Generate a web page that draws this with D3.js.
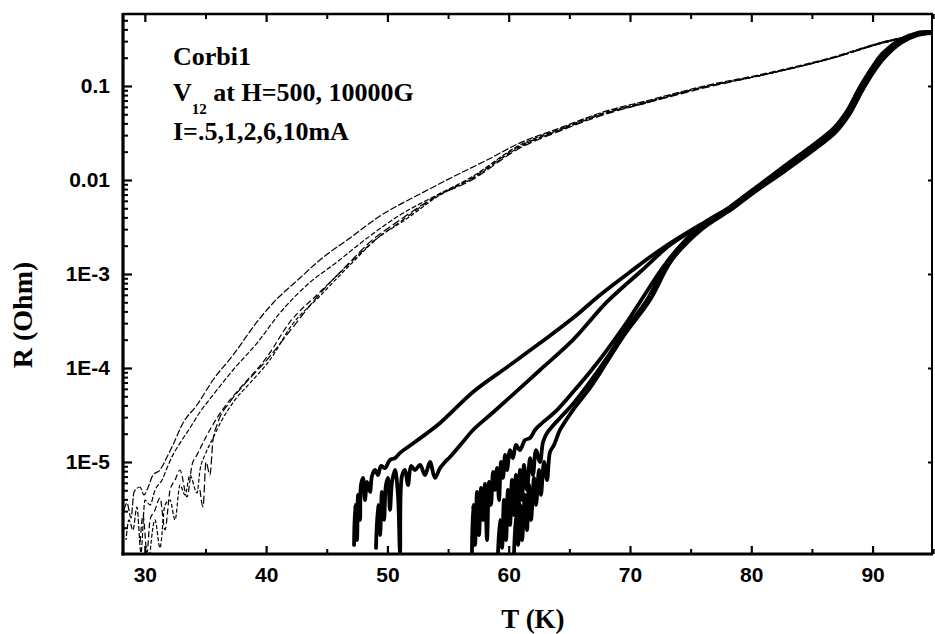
<!DOCTYPE html>
<html>
<head>
<meta charset="utf-8">
<script src="https://cdn.jsdelivr.net/npm/d3@7/dist/d3.min.js"></script>
<style>
  body { margin: 0; background: #fff; }
  svg { display: block; }
</style>
</head>
<body>
<svg id="chart" width="935" height="634"></svg>
<script>
// ---- Data: R(T) for sample Corbi1, V12 at H = 500 G (thin) and 10000 G (thick) ----
// Each series is a list of [T (K), R (Ohm)] readings, I = .5, 1, 2, 6, 10 mA.
const h500_I05 = [[28.28,3.09e-6],[28.53,3.66e-6],[28.86,2.54e-6],[29.11,4.80e-6],[29.60,5.42e-6],[29.93,4.46e-6],[30.18,5.04e-6],[30.67,7.27e-6],[31.25,8.22e-6],[31.83,1.13e-5],[32.32,1.52e-5],[33.15,2.60e-5],[34.30,4.04e-5],[35.62,7.45e-5],[37.27,1.37e-4],[39.25,3.09e-4],[40.57,4.91e-4],[42.79,9.07e-4],[44.44,1.41e-3],[46.92,2.42e-3],[49.39,4.14e-3],[52.69,7.10e-3],[55.41,0.0108],[58.21,0.0163],[60.93,0.0248],[64.23,0.0357],[67.53,0.0516],[71.65,0.0710],[75.77,0.0976],[81.30,0.137],[86.74,0.203],[90.86,0.294],[94.90,0.375]];
const h500_I1 = [[28.45,1.48e-6],[28.69,2.42e-6],[29.02,1.89e-6],[29.35,3.32e-6],[29.68,1.08e-6],[30.01,3.94e-6],[30.43,3.49e-6],[30.84,5.04e-6],[31.42,6.43e-6],[31.83,8.63e-6],[32.32,1.19e-5],[32.90,1.59e-5],[33.72,2.30e-5],[34.55,3.40e-5],[35.62,5.16e-5],[37.27,9.52e-5],[39.25,1.84e-4],[41.14,3.85e-4],[43.37,7.64e-4],[45.84,1.34e-3],[48.56,2.54e-3],[51.04,4.24e-3],[54.09,6.92e-3],[56.81,0.0105],[60.93,0.0236],[64.23,0.0349],[67.53,0.0504],[71.65,0.0692],[75.77,0.0952],[81.30,0.134],[86.74,0.199],[90.86,0.287],[94.90,0.366]];
const h500_I2 = [[29.60,1.31e-6],[29.85,2.73e-6],[30.18,1.08e-6],[30.43,2.42e-6],[30.84,3.09e-6],[31.25,4.14e-6],[31.66,1.89e-6],[32.08,5.04e-6],[32.49,6.43e-6],[32.90,8.22e-6],[33.48,4.24e-6],[33.89,9.29e-6],[34.30,1.19e-5],[35.13,1.94e-5],[35.95,2.94e-5],[37.02,4.57e-5],[38.09,6.59e-5],[40.07,1.31e-4],[41.97,3.09e-4],[44.19,5.98e-4],[46.50,1.16e-3],[48.98,2.30e-3],[51.04,3.57e-3],[54.09,6.76e-3],[56.81,0.0102],[60.93,0.0230],[64.23,0.0340],[67.53,0.0491],[71.65,0.0692],[75.77,0.0952],[81.30,0.134],[86.74,0.199],[90.86,0.294],[94.90,0.375]];
const h500_I6 = [[30.43,1.08e-6],[30.84,2.42e-6],[31.25,1.22e-6],[31.66,3.49e-6],[32.08,3.94e-6],[32.49,2.42e-6],[32.90,5.69e-6],[33.31,4.46e-6],[33.72,7.27e-6],[34.30,4.68e-6],[34.55,8.22e-6],[34.96,1.19e-5],[35.54,1.71e-5],[36.36,2.80e-5],[37.43,4.57e-5],[38.67,6.92e-5],[40.32,1.22e-4],[42.13,2.87e-4],[44.44,5.83e-4],[46.92,1.25e-3],[49.22,2.42e-3],[51.45,3.75e-3],[54.34,6.92e-3],[56.81,0.0100],[60.93,0.0225],[64.23,0.0340],[67.53,0.0491],[71.65,0.0676],[75.77,0.0952],[81.30,0.134],[86.74,0.199],[90.86,0.287],[94.90,0.375]];
const h500_I10 = [[34.55,5.04e-6],[34.80,3.32e-6],[35.04,1.00e-5],[35.37,7.27e-6],[35.62,1.71e-5],[35.95,2.48e-5],[37.02,4.35e-5],[38.09,6.43e-5],[40.07,1.22e-4],[42.22,2.73e-4],[44.19,5.69e-4],[46.92,1.34e-3],[48.56,2.19e-3],[50.79,3.57e-3],[54.09,6.76e-3],[56.81,9.76e-3],[60.93,0.0219],[64.23,0.0332],[67.53,0.0480],[71.65,0.0676],[75.77,0.0929],[81.30,0.134],[86.74,0.199],[90.86,0.287],[94.90,0.375]];

const h10000_I05 = [[47.25,1.31e-6],[47.33,3.49e-6],[47.49,1.48e-6],[47.58,4.46e-6],[47.74,2.42e-6],[47.82,5.69e-6],[47.99,6.76e-6],[48.15,3.94e-6],[48.32,6.13e-6],[48.56,4.80e-6],[48.73,7.10e-6],[48.98,8.22e-6],[49.22,7.27e-6],[49.47,9.07e-6],[49.80,8.63e-6],[50.21,1.05e-5],[50.63,1.10e-5],[51.04,1.25e-5],[52.27,1.63e-5],[54.34,2.60e-5],[57.06,5.55e-5],[59.86,1.02e-4],[62.58,1.84e-4],[65.30,3.40e-4],[67.53,5.98e-4],[70.00,1.05e-3],[72.47,1.80e-3],[75.77,3.32e-3],[78.25,5.04e-3],[79.89,7.27e-3],[82.62,0.0134],[85.42,0.0248],[86.74,0.0340],[87.89,0.0529],[88.96,0.0952],[90.04,0.159],[90.86,0.219],[92.26,0.309],[93.66,0.357],[94.90,0.375]];
const h10000_I1 = [[49.06,1.22e-6],[49.22,3.49e-6],[49.39,1.67e-6],[49.55,4.80e-6],[49.72,2.42e-6],[49.88,5.69e-6],[50.05,6.76e-6],[50.21,3.09e-6],[50.38,6.13e-6],[50.63,8.22e-6],[50.87,4.46e-6],[51.04,1.10e-6],[51.20,7.10e-6],[51.45,8.22e-6],[51.70,5.69e-6],[51.95,9.07e-6],[52.27,8.22e-6],[52.69,9.29e-6],[53.10,7.27e-6],[53.51,1.00e-5],[53.92,6.76e-6],[54.34,8.63e-6],[54.75,1.00e-5],[55.16,1.13e-5],[56.15,1.59e-5],[57.06,2.19e-5],[58.46,3.16e-5],[59.86,4.57e-5],[62.58,9.52e-5],[65.30,1.99e-4],[68.10,5.04e-4],[70.83,1.05e-3],[73.30,2.03e-3],[75.77,3.24e-3],[78.25,5.16e-3],[79.89,7.45e-3],[82.62,0.0131],[85.42,0.0242],[86.74,0.0332],[87.89,0.0516],[88.96,0.0929],[90.04,0.155],[90.86,0.214],[92.26,0.301],[93.66,0.357],[94.90,0.375]];
const h10000_I2 = [[56.97,1.10e-6],[57.06,3.49e-6],[57.22,1.31e-6],[57.39,4.80e-6],[57.55,1.67e-6],[57.72,5.29e-6],[57.88,2.42e-6],[58.05,5.83e-6],[58.21,1.48e-6],[58.38,6.13e-6],[58.54,3.49e-6],[58.71,7.83e-6],[58.87,5.04e-6],[59.04,8.63e-6],[59.20,3.94e-6],[59.37,1.00e-5],[59.53,6.76e-6],[59.70,1.19e-5],[59.86,8.22e-6],[60.11,1.34e-5],[60.35,1.10e-5],[60.60,1.52e-5],[60.93,1.34e-5],[61.34,1.71e-5],[61.76,1.80e-5],[62.17,2.19e-5],[62.58,2.48e-5],[63.98,3.57e-5],[65.30,5.55e-5],[66.70,9.07e-5],[68.10,1.55e-4],[69.59,2.87e-4],[70.83,5.04e-4],[73.05,1.34e-3],[75.77,3.24e-3],[78.25,5.16e-3],[79.89,7.45e-3],[82.62,0.0137],[85.42,0.0254],[86.74,0.0349],[87.89,0.0542],[88.96,0.0976],[90.04,0.163],[90.86,0.225],[92.26,0.309],[93.66,0.366],[94.90,0.375]];
const h10000_I6 = [[59.12,1.08e-6],[59.28,2.42e-6],[59.45,1.22e-6],[59.61,3.94e-6],[59.78,1.48e-6],[59.94,5.04e-6],[60.11,2.14e-6],[60.27,6.43e-6],[60.44,2.73e-6],[60.60,7.27e-6],[60.77,1.67e-6],[60.93,8.22e-6],[61.10,3.94e-6],[61.26,9.29e-6],[61.51,5.04e-6],[61.76,1.10e-5],[62.00,7.27e-6],[62.25,1.34e-5],[62.58,1.00e-5],[62.83,1.63e-5],[63.16,2.03e-5],[64.23,2.94e-5],[65.30,4.14e-5],[66.70,7.10e-5],[68.10,1.28e-4],[69.59,2.54e-4],[71.40,5.29e-4],[73.30,1.48e-3],[75.77,3.09e-3],[78.25,5.04e-3],[79.89,7.27e-3],[82.62,0.0128],[85.42,0.0236],[86.74,0.0324],[87.89,0.0504],[88.96,0.0907],[90.04,0.152],[90.86,0.209],[92.26,0.294],[93.66,0.357],[94.90,0.375]];
const h10000_I10 = [[60.44,1.08e-6],[60.60,2.73e-6],[60.77,1.31e-6],[60.93,3.49e-6],[61.10,1.48e-6],[61.34,4.46e-6],[61.51,1.89e-6],[61.67,5.69e-6],[61.84,2.42e-6],[62.09,6.76e-6],[62.25,3.49e-6],[62.50,8.22e-6],[62.66,4.46e-6],[62.91,1.00e-5],[63.16,6.43e-6],[63.41,1.28e-5],[63.74,1.52e-5],[64.23,2.19e-5],[65.30,3.57e-5],[66.70,6.13e-5],[68.10,1.16e-4],[69.59,2.30e-4],[71.65,5.29e-4],[73.46,1.41e-3],[75.94,3.01e-3],[78.41,4.91e-3],[80.06,7.10e-3],[82.78,0.0125],[85.58,0.0230],[86.90,0.0316],[88.06,0.0491],[89.13,0.0885],[90.20,0.148],[91.03,0.203],[92.34,0.287],[93.75,0.349],[94.90,0.366]];

const lowFieldSeries = [h500_I05, h500_I1, h500_I2, h500_I6, h500_I10];
const highFieldSeries = [h10000_I05, h10000_I1, h10000_I2, h10000_I6, h10000_I10];

// Axis ticks and labels
const xMajorTicks = [30, 40, 50, 60, 70, 80, 90];
const xMinorTicks = [35, 45, 55, 65, 75, 85, 95];
const yMajorTicks = [0.1, 0.01, 1e-3, 1e-4, 1e-5];
const yTickLabels = ["0.1", "0.01", "1E-3", "1E-4", "1E-5"];

const annotationLines = ["Corbi1", "V", "12", " at H=500, 10000G", "I=.5,1,2,6,10mA"];
const xTitle = "T (K)";
const yTitle = "R (Ohm)";

// ---- Layout ----
const plot = { left: 123, right: 932, top: 14, bottom: 554 };
const svg = d3.select("#chart");

const x = d3.scaleLinear().domain([28.2, 94.9]).range([plot.left, plot.right]);
const y = d3.scaleLog().domain([1.05e-6, 0.583]).range([plot.bottom, plot.top]);

// minor log ticks 2..9 within each decade
const yMinorTicks = [];
for (let e = -6; e <= -1; e++) {
  for (let m = 2; m <= 9; m++) {
    const v = m * Math.pow(10, e);
    if (v > y.domain()[0] && v < y.domain()[1]) yMinorTicks.push(v);
  }
}

const tickFont = "'Liberation Sans', Arial, Helvetica, sans-serif";
const serifFont = "'Liberation Serif', 'Times New Roman', Times, serif";

function styleAxis(g, width) {
  g.select(".domain").remove();
  g.selectAll(".tick line").attr("stroke", "#000").attr("stroke-width", width);
}

// ---- Curves ----
svg.append("clipPath").attr("id", "plotClip")
  .append("rect")
  .attr("x", plot.left).attr("y", plot.top)
  .attr("width", plot.right - plot.left).attr("height", plot.bottom - plot.top);

const smoothLine = d3.line()
  .x(d => x(d[0]))
  .y(d => y(d[1]))
  .curve(d3.curveMonotoneX);

const traceLine = d3.line()
  .x(d => x(d[0]))
  .y(d => y(d[1]))
  .curve(d3.curveCatmullRom.alpha(0.5));

const curves = svg.append("g").attr("clip-path", "url(#plotClip)");

// 500 G: thin broken traces
const dashes = ["7 2", "5 2", "6 3", "4 2", "8 3"];
curves.selectAll("path.low")
  .data(lowFieldSeries)
  .join("path")
  .attr("class", "low")
  .attr("d", smoothLine)
  .attr("fill", "none")
  .attr("stroke", "#000")
  .attr("stroke-width", 1.2)
  .attr("stroke-dasharray", (d, i) => dashes[i])
  .attr("stroke-dashoffset", (d, i) => i * 3)
  .attr("stroke-linejoin", "round");

// 10000 G: heavy traces
curves.selectAll("path.high")
  .data(highFieldSeries)
  .join("path")
  .attr("class", "high")
  .attr("d", traceLine)
  .attr("fill", "none")
  .attr("stroke", "#000")
  .attr("stroke-width", 3.8)
  .attr("stroke-linejoin", "round")
  .attr("stroke-linecap", "round");

// ---- Axes ----
// bottom
svg.append("g")
  .attr("transform", `translate(0,${plot.bottom})`)
  .call(d3.axisBottom(x).tickValues(xMajorTicks).tickSizeInner(-8).tickSizeOuter(0).tickPadding(13).tickFormat(d3.format("d")))
  .call(g => styleAxis(g, 2.2))
  .call(g => g.selectAll("text").attr("font-family", tickFont).attr("font-weight", "bold").attr("font-size", 21).attr("fill", "#000"));
svg.append("g")
  .attr("transform", `translate(0,${plot.bottom})`)
  .call(d3.axisBottom(x).tickValues(xMinorTicks).tickSizeInner(-5).tickSizeOuter(0).tickFormat(""))
  .call(g => styleAxis(g, 2));

// top
svg.append("g")
  .attr("transform", `translate(0,${plot.top})`)
  .call(d3.axisTop(x).tickValues(xMajorTicks).tickSizeInner(-8).tickSizeOuter(0).tickFormat(""))
  .call(g => styleAxis(g, 2.2));
svg.append("g")
  .attr("transform", `translate(0,${plot.top})`)
  .call(d3.axisTop(x).tickValues(xMinorTicks).tickSizeInner(-5).tickSizeOuter(0).tickFormat(""))
  .call(g => styleAxis(g, 2));

// left
svg.append("g")
  .attr("transform", `translate(${plot.left},0)`)
  .call(d3.axisLeft(y).tickValues(yMajorTicks).tickSizeInner(-9).tickSizeOuter(0).tickPadding(13)
    .tickFormat((d, i) => yTickLabels[i]))
  .call(g => styleAxis(g, 2.2))
  .call(g => g.selectAll("text").attr("font-family", tickFont).attr("font-weight", "bold").attr("font-size", 21).attr("fill", "#000"));
svg.append("g")
  .attr("transform", `translate(${plot.left},0)`)
  .call(d3.axisLeft(y).tickValues(yMinorTicks).tickSizeInner(-5).tickSizeOuter(0).tickFormat(""))
  .call(g => styleAxis(g, 2));

// right
svg.append("g")
  .attr("transform", `translate(${plot.right},0)`)
  .call(d3.axisLeft(y).tickValues(yMajorTicks).tickSizeInner(4).tickSizeOuter(0).tickFormat(""))
  .call(g => styleAxis(g, 2));

// frame
svg.append("line").attr("x1", plot.left).attr("x2", plot.left).attr("y1", plot.top - 1).attr("y2", plot.bottom + 1.5)
  .attr("stroke", "#000").attr("stroke-width", 3.2);
svg.append("line").attr("x1", plot.left - 1.5).attr("x2", plot.right + 1).attr("y1", plot.bottom).attr("y2", plot.bottom)
  .attr("stroke", "#000").attr("stroke-width", 3);
svg.append("line").attr("x1", plot.left).attr("x2", plot.right + 1).attr("y1", plot.top).attr("y2", plot.top)
  .attr("stroke", "#000").attr("stroke-width", 2.6);
svg.append("line").attr("x1", plot.right).attr("x2", plot.right).attr("y1", plot.top).attr("y2", plot.bottom)
  .attr("stroke", "#000").attr("stroke-width", 2);

// ---- Titles ----
svg.append("text")
  .attr("x", 533).attr("y", 628)
  .attr("text-anchor", "middle")
  .attr("font-family", serifFont).attr("font-weight", "bold").attr("font-size", 27)
  .text(xTitle);

svg.append("text")
  .attr("transform", "translate(32,315) rotate(-90)")
  .attr("text-anchor", "middle")
  .attr("font-family", serifFont).attr("font-weight", "bold").attr("font-size", 28)
  .text(yTitle);

// ---- Annotation ----
const note = svg.append("g")
  .attr("font-family", serifFont).attr("font-weight", "bold").attr("font-size", 26).attr("fill", "#000");
note.append("text").attr("x", 173).attr("y", 65).text(annotationLines[0]);
const l2 = note.append("text").attr("x", 173).attr("y", 101);
l2.append("tspan").text(annotationLines[1]);
l2.append("tspan").attr("font-size", 15).attr("dy", 13).text(annotationLines[2]);
l2.append("tspan").attr("dy", -13).text(annotationLines[3]);
note.append("text").attr("x", 173).attr("y", 140).text(annotationLines[4]);
</script>
</body>
</html>
